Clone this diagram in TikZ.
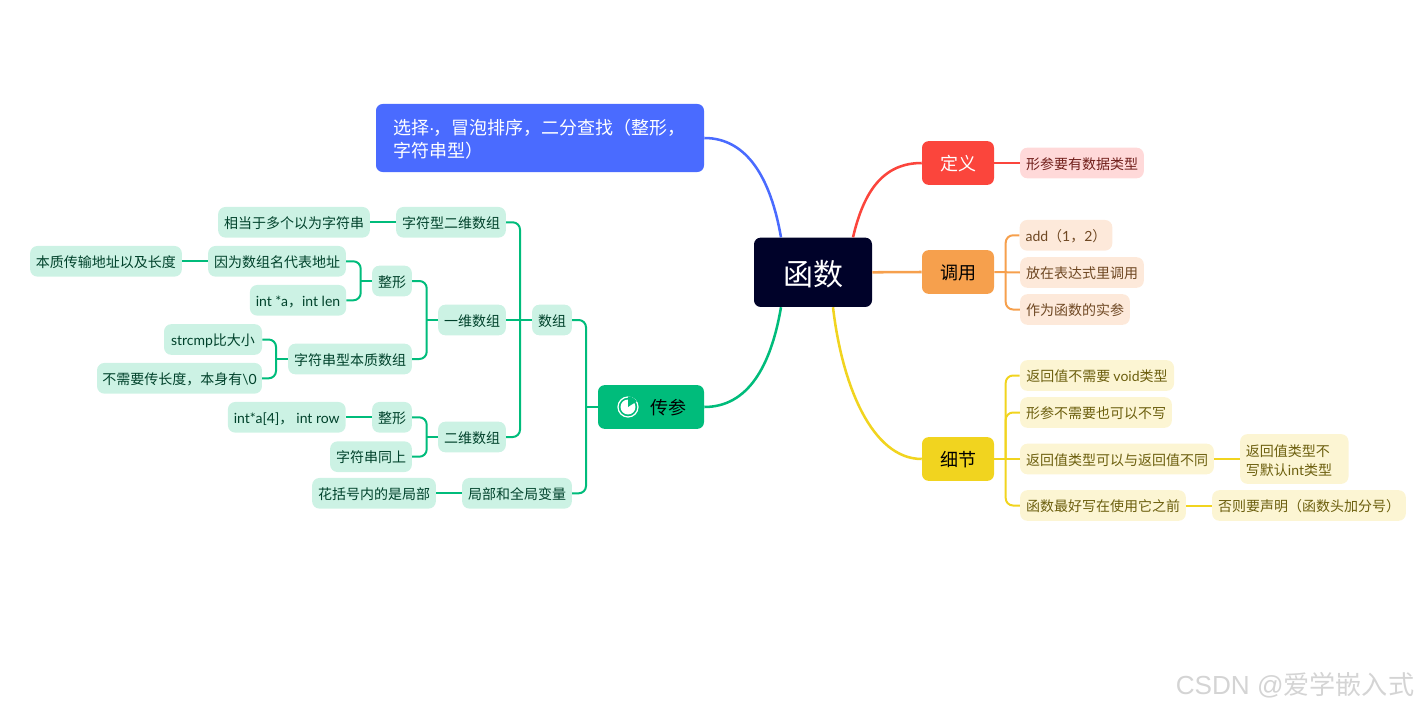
\documentclass[tikz,border=0pt]{standalone}
\usepackage{fontspec}
\setmainfont{Noto Sans CJK SC}
\newfontfamily\lat{Lato}
\newfontfamily\arl{Liberation Sans}
\usetikzlibrary{arrows.meta,positioning}
\definecolor{rootcol}{HTML}{000229}
\definecolor{bluecol}{HTML}{4A6BFF}
\definecolor{redcol}{HTML}{FB453C}
\definecolor{orangecol}{HTML}{F6A04D}
\definecolor{yellowcol}{HTML}{F1D41F}
\definecolor{greencol}{HTML}{00BC7B}
\definecolor{redleaf}{HTML}{FFD9D9}
\definecolor{orangeleaf}{HTML}{FDE9DA}
\definecolor{yellowleaf}{HTML}{FCF5D3}
\definecolor{greenleaf}{HTML}{CCF2E4}
\newcommand{\fs}[2]{\fontsize{#1}{#2}\selectfont}

\begin{document}
\begin{tikzpicture}[
  x=0.75pt,y=-0.75pt,
  rootbox/.style={fill=rootcol,text=white,rounded corners=5pt,text height=20.4pt,text depth=0.2pt,
    minimum width=88.5pt,minimum height=52pt,inner sep=0pt,font=\fs{22.5pt}{27pt}},
  mainbox/.style={rounded corners=5pt,minimum width=54pt,minimum height=32.8pt,
    text height=12pt,text depth=0.2pt,inner sep=0pt,font=\fs{13.5pt}{17.25pt}},
  leaf/.style={rounded corners=5.5pt,minimum height=23pt,inner xsep=4.4pt,
    text height=9.4pt,text depth=0.2pt,inner ysep=0pt,font=\fs{10.5pt}{14.6pt}},
  gleaf/.style={leaf,fill=greenleaf,text=greencol!35!black},
  yleaf/.style={leaf,fill=yellowleaf,text=yellowcol!45!black},
  oleaf/.style={leaf,fill=orangeleaf,text=orangecol!45!black},
  rleaf/.style={leaf,fill=redleaf,text=redcol!45!black},
  bline/.style={line width=1.9pt},
  gline/.style={draw=greencol,line width=1.5pt,rounded corners=5.5pt},
  yline/.style={draw=yellowcol,line width=1.5pt,rounded corners=5.5pt},
  oline/.style={draw=orangecol,line width=1.5pt,rounded corners=5.5pt},
  rline/.style={draw=redcol,line width=1.5pt}
]
\useasboundingbox (0,0) rectangle (1418,710);

% ---- centre and main topics ----
\node[rootbox] (root) at (813,272.3) {函数};
\node[fill=bluecol,text=white,rounded corners=5pt,inner sep=0pt,align=left,minimum width=246pt,
  minimum height=51pt,font=\fs{13.5pt}{17.25pt},text width=220pt,text depth=16.6pt] (sort) at (540,138)
  {选择{\arl\hspace{-0.3pt}·\hspace{-0.8pt}}，冒泡排序，二分查找（整形，\\字符串型）};
\node[mainbox,fill=redcol,text=white] (def) at (958,163) {定义};
\node[mainbox,fill=orangecol] (call) at (958,272) {调用};
\node[mainbox,fill=yellowcol] (detail) at (958,459) {细节};
\node[mainbox,fill=greencol,minimum width=79.5pt] (param) at (651,407) {\hspace{25.5pt}传参};

% ---- icon in the param box ----
\node[circle,draw=white,line width=0.9pt,minimum size=15pt,inner sep=0pt] (icon) at (628,407) {};
\fill[white] (icon.center) circle (5.6pt);
\fill[greencol] (icon.center) -- (icon.90) arc (90:30:7.5pt) -- cycle;

% ---- red branch ----
\node[rleaf] (defa) at (1082,163) {形参要有数据类型};

% ---- orange branch ----
\node[oleaf,minimum width=69pt] (calla) at (1066,235.3) {{\lat add}（{\lat 1}，{\lat 2}）};
\node[oleaf] (callb) at (1082,272.5) {放在表达式里调用};
\node[oleaf] (callc) at (1075,309.5) {作为函数的实参};

% ---- yellow branch ----
\node[yleaf,minimum width=115.5pt] (deta) at (1097,375.5) {返回值不需要 {\lat void}类型};
\node[yleaf] (detb) at (1096,412.5) {形参不需要也可以不写};
\node[yleaf] (detc) at (1117,459) {返回值类型可以与返回值不同};
\node[yleaf,align=left,text width=72.5pt,text height=8pt,text depth=12.5pt,minimum height=37.3pt] (detc1) at (1294.3,459)
  {返回值类型不\\写默认{\lat int}类型};
\node[yleaf] (detd) at (1103,505.5) {函数最好写在使用它之前};
\node[yleaf] (detd1) at (1309,505.5) {否则要声明（函数头加分号）};

% ---- green branch ----
\node[gleaf] (arr) at (552,320) {数组};
\node[gleaf] (local) at (517,493.3) {局部和全局变量};
\node[gleaf] (locala) at (374,493.3) {花括号内的是局部};
\node[gleaf] (strtwo) at (451,222.3) {字符型二维数组};
\node[gleaf] (strtwoa) at (294,222.3) {相当于多个以为字符串};
\node[gleaf] (one) at (472,320) {一维数组};
\node[gleaf] (two) at (472,437) {二维数组};
\node[gleaf] (oneint) at (392,281) {整形};
\node[gleaf] (onename) at (277,261.3) {因为数组名代表地址};
\node[gleaf] (onenamea) at (106,261.3) {本质传输地址以及长度};
\node[gleaf,minimum width=71.8pt] (onelen) at (298,300.3) {{\lat int *a}，{\lat int len}};
\node[gleaf] (onestr) at (350,359) {字符串型本质数组};
\node[gleaf,minimum width=73.5pt] (onecmp) at (213,339.5) {{\lat strcmp}比大小};
\node[gleaf,minimum width=123.7pt,inner xsep=3.8pt] (onenul) at (179.5,378.3) {不需要传长度，本身有{\lat \textbackslash0}};
\node[gleaf] (twoint) at (392,417.3) {整形};
\node[gleaf,minimum width=88.3pt] (tworow) at (286.8,417.3) {{\lat int*a[4]}， {\lat int row}};
\node[gleaf] (twostr) at (371,456.7) {字符串同上};

% ---- trunks for the bracket connectors ----
\coordinate (ctrg) at (586,407);
\coordinate (carr) at (520,320);
\coordinate (cone) at (426.7,320);
\coordinate (ctwo) at (426.7,437);
\coordinate (cint) at (360.7,281);
\coordinate (cstr) at (276,359);
\coordinate (ccall) at (1005.7,272);
\coordinate (cdet) at (1005.7,459);

% ---- curves from the centre ----
\draw[bline,draw=bluecol] (sort.east) .. controls (748,138) and (771,180) .. ([xshift=-24pt]root.north);
\draw[bline,draw=redcol] ([xshift=30pt]root.north) .. controls (864,190) and (884,163) .. (def.west);
\draw[bline,draw=orangecol] (root.east) -- (call.west);
\draw[bline,draw=yellowcol] ([xshift=15pt]root.south) .. controls (842,385) and (872,459) .. (detail.west);
\draw[bline,draw=greencol] ([xshift=-24pt]root.south) .. controls (771,366) and (748,407) .. (param.east);

% ---- right side ----
\draw[rline] (def.east) -- (defa.west);
\draw[oline] (calla.west) -| (ccall) |- (callc.west);
\draw[oline] (call.east) -- (callb.west);
\draw[yline] (deta.west) -| (cdet) |- (detd.west);
\draw[yline] (detb.west) -| (cdet);
\draw[yline] (detail.east) -- (detc.west);
\draw[yline] (detc.east) -- (detc1.west);
\draw[yline] (detd.east) -- (detd1.west);

% ---- left side ----
\draw[gline] (param.west) -- (ctrg);
\draw[gline] (arr.east) -| (ctrg) |- (local.east);
\draw[gline] (local.west) -- (locala.east);
\draw[gline] (arr.west) -- (one.east);
\draw[gline] (strtwo.east) -| (carr) |- (two.east);
\draw[gline] (strtwo.west) -- (strtwoa.east);
\draw[gline] (one.west) -- (cone);
\draw[gline] (oneint.east) -| (cone) |- (onestr.east);
\draw[gline] (oneint.west) -- (cint);
\draw[gline] (onename.east) -| (cint) |- (onelen.east);
\draw[gline] (onename.west) -- (onenamea.east);
\draw[gline] (onestr.west) -- (cstr);
\draw[gline] (onecmp.east) -| (cstr) |- (onenul.east);
\draw[gline] (two.west) -- (ctwo);
\draw[gline] (twoint.east) -| (ctwo) |- (twostr.east);
\draw[gline] (twoint.west) -- (tworow.east);

% ---- watermark ----
\node[text=black!17,font=\fs{19.6pt}{24pt},inner sep=0pt] (mark) at (1295,685) {{\arl CSDN @}爱学嵌入式};
\end{tikzpicture}
\end{document}
